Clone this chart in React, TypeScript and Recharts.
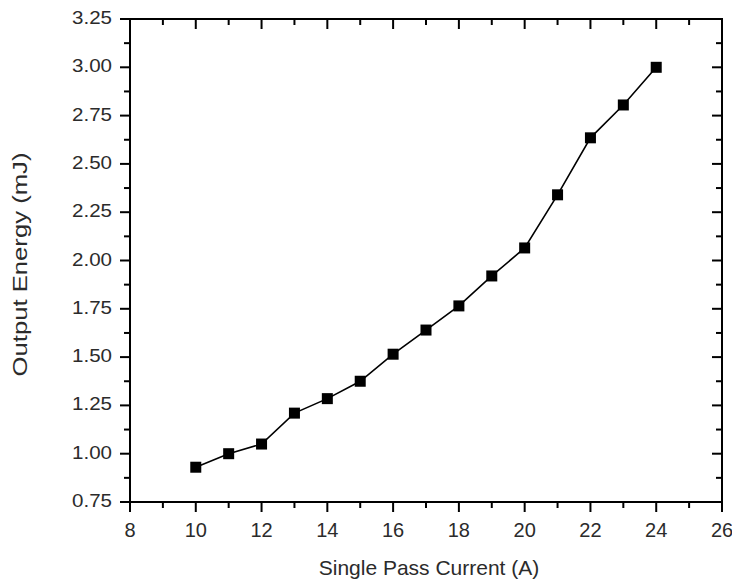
import { CartesianGrid, Label, Line, LineChart, ReferenceArea, ReferenceLine, XAxis, YAxis } from "recharts";

// Output energy vs single pass current
const currents = [10, 11, 12, 13, 14, 15, 16, 17, 18, 19, 20, 21, 22, 23, 24];
const energies = [0.93, 1.0, 1.05, 1.21, 1.285, 1.375, 1.515, 1.64, 1.765, 1.92, 2.065, 2.34, 2.635, 2.805, 3.0];

const X_MIN = 8;
const X_MAX = 26;
const Y_MIN = 0.75;
const Y_MAX = 3.25;
const xTicks = [8, 9, 10, 11, 12, 13, 14, 15, 16, 17, 18, 19, 20, 21, 22, 23, 24, 25, 26];
const yTicks = [
  0.75, 0.875, 1.0, 1.125, 1.25, 1.375, 1.5, 1.625, 1.75, 1.875, 2.0, 2.125, 2.25, 2.375, 2.5, 2.625,
  2.75, 2.875, 3.0, 3.125, 3.25,
];

const data = currents.map((x, i) => ({ x, y: energies[i] }));

const FONT = '"Liberation Sans", Arial, sans-serif';
const INK = "#2b2b2b";

// plot box is 592 x 483 px; inward tick lengths of the mirrored axes in data units
const PX_X = (X_MAX - X_MIN) / 592;
const PX_Y = (Y_MAX - Y_MIN) / 483;

const isMajorX = (v: number) => v % 2 === 0;
const isMajorY = (v: number) => Math.abs(v * 4 - Math.round(v * 4)) < 1e-6;

function BottomTick({ x, y, payload }: any) {
  const v = payload.value;
  const major = isMajorX(v);
  return (
    <g>
      <line x1={x} x2={x} y1={y} y2={y + (major ? 10 : 6)} stroke="#000" strokeWidth={2} />
      {major && (
        <text x={x} y={y + 35} textAnchor="middle" fontSize={20} fontFamily={FONT} fill={INK}>
          {v}
        </text>
      )}
    </g>
  );
}

function LeftTick({ x, y, payload }: any) {
  const v = payload.value;
  const major = isMajorY(v);
  return (
    <g>
      <line x1={x - (major ? 10 : 6)} x2={x} y1={y} y2={y} stroke="#000" strokeWidth={2} />
      {major && (
        <text
          x={x - 18}
          y={y + 5}
          textAnchor="end"
          fontSize={18}
          fontFamily={FONT}
          fill={INK}
          textLength={40}
          lengthAdjust="spacingAndGlyphs"
        >
          {v.toFixed(2)}
        </text>
      )}
    </g>
  );
}

function XTitle({ viewBox }: any) {
  const { x, y, width } = viewBox;
  return (
    <text x={x + width / 2 + 3} y={y + 73} textAnchor="middle" fontSize={21} fontFamily={FONT} fill={INK}>
      Single Pass Current (A)
    </text>
  );
}

function YTitle({ viewBox }: any) {
  const { x, y, height } = viewBox;
  const cx = x + 27;
  const cy = y + height / 2 + 4;
  return (
    <text
      x={cx}
      y={cy}
      transform={`rotate(-90 ${cx} ${cy})`}
      textAnchor="middle"
      fontSize={20}
      fontFamily={FONT}
      fill={INK}
      textLength={224}
      lengthAdjust="spacingAndGlyphs"
    >
      Output Energy (mJ)
    </text>
  );
}

function SquareDot({ cx, cy, index }: any) {
  return <rect key={index} x={cx - 5.5} y={cy - 5.5} width={11} height={11} fill="#000" />;
}

export default function App() {
  return (
    <div style={{ position: "absolute", left: 0, top: 0, width: 732, height: 584, background: "#fff" }}>
      <LineChart width={732} height={584} data={data} margin={{ top: 19, right: 10, left: 0, bottom: 0 }}>
        {/* top and right edges of the frame */}
        <CartesianGrid
          horizontalValues={[Y_MAX]}
          verticalValues={[X_MAX]}
          stroke="#000"
          strokeWidth={2}
          strokeOpacity={1}
        />
        <XAxis
          dataKey="x"
          type="number"
          domain={[X_MIN, X_MAX]}
          ticks={xTicks}
          interval={0}
          height={82}
          tickSize={0}
          tickMargin={0}
          tickLine={false}
          tick={<BottomTick />}
          axisLine={{ stroke: "#000", strokeWidth: 2 }}
        >
          <Label content={<XTitle />} />
        </XAxis>
        <YAxis
          type="number"
          domain={[Y_MIN, Y_MAX]}
          ticks={yTicks}
          interval={0}
          width={130}
          tickSize={0}
          tickMargin={0}
          tickLine={false}
          tick={<LeftTick />}
          axisLine={{ stroke: "#000", strokeWidth: 2 }}
        >
          <Label content={<YTitle />} />
        </YAxis>
        <ReferenceArea
          x1={X_MIN}
          x2={X_MAX}
          y1={Y_MIN}
          y2={Y_MAX}
          fill="none"
          fillOpacity={0}
          stroke="#000"
          strokeWidth={2}
          strokeOpacity={1}
          ifOverflow="visible"
        />
        <ReferenceLine y={Y_MAX} stroke="#000" strokeWidth={2} strokeOpacity={1} ifOverflow="visible" />
        <ReferenceLine x={X_MAX} stroke="#000" strokeWidth={2} strokeOpacity={1} ifOverflow="visible" />
        {xTicks.map((t) => (
          <ReferenceLine
            key={`tx${t}`}
            segment={[
              { x: t, y: Y_MAX },
              { x: t, y: Y_MAX - (isMajorX(t) ? 10 : 6) * PX_Y },
            ]}
            stroke="#000"
            strokeWidth={2}
            strokeOpacity={1}
            ifOverflow="visible"
          />
        ))}
        {yTicks.map((t) => (
          <ReferenceLine
            key={`ty${t}`}
            segment={[
              { x: X_MAX, y: t },
              { x: X_MAX - (isMajorY(t) ? 10 : 6) * PX_X, y: t },
            ]}
            stroke="#000"
            strokeWidth={2}
            strokeOpacity={1}
            ifOverflow="visible"
          />
        ))}
        <Line
          type="linear"
          dataKey="y"
          stroke="#000"
          strokeWidth={1.6}
          dot={<SquareDot />}
          activeDot={false}
          isAnimationActive={false}
        />
      </LineChart>
    </div>
  );
}
